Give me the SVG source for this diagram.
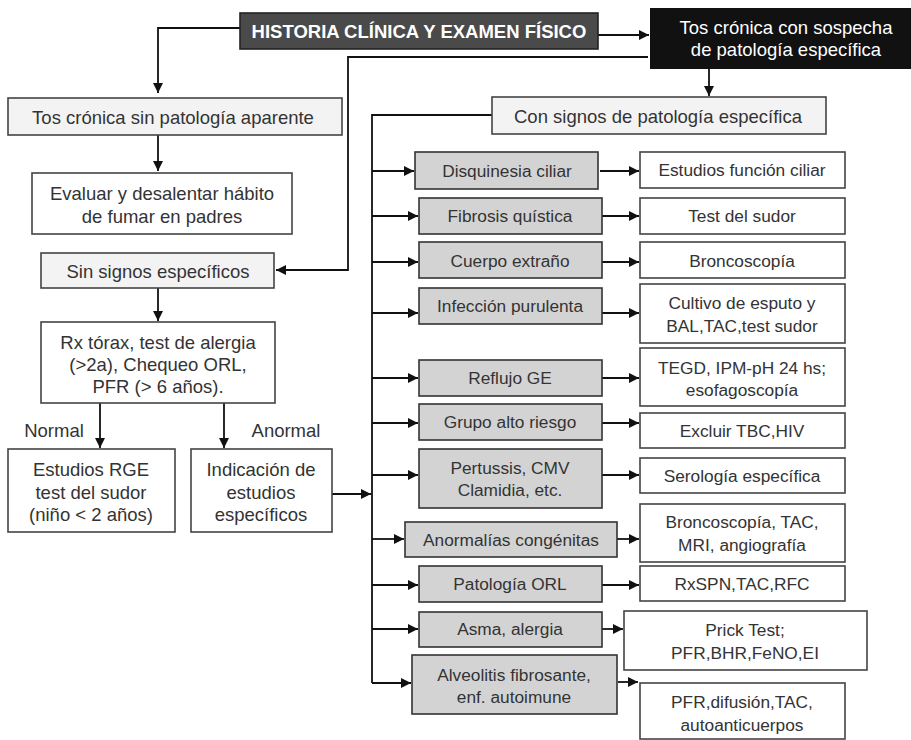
<svg xmlns="http://www.w3.org/2000/svg" width="911" height="740" viewBox="0 0 911 740">
<defs>
<marker id="ah" markerWidth="12" markerHeight="12" refX="10" refY="5" orient="auto" markerUnits="userSpaceOnUse">
<path d="M0,0 L10,5 L0,10 Z" fill="#111"/>
</marker>
</defs>
<style>
text{font-family:"Liberation Sans",Arial,sans-serif;font-size:17.3px;fill:#333;text-anchor:middle;dominant-baseline:central}
.L{font-size:18.5px}
.lt{fill:#f3f3f3;stroke:#444;stroke-width:1.6}
.wh{fill:#fff;stroke:#444;stroke-width:1.6}
.gr{fill:#d3d3d3;stroke:#333;stroke-width:1.6}
.c{fill:none;stroke:#111;stroke-width:1.8}
.ca{fill:none;stroke:#111;stroke-width:1.8;marker-end:url(#ah)}
.w{fill:#fff}
.b{font-weight:bold}
</style>
<rect width="911" height="740" fill="#fff"/>
<g id="connectors">
<path class="ca" d="M240,28 H158 V93"/>
<path class="ca" d="M598,35 H649"/>
<path class="ca" d="M648,57 H348 V270 H276"/>
<path class="ca" d="M709,69 V96"/>
<path class="ca" d="M158,135 V171"/>
<path class="ca" d="M158,288 V321"/>
<path class="ca" d="M100,403 V448"/>
<path class="ca" d="M224,403 V448"/>
<path class="c" d="M492,115 H372 V683"/>
<path class="ca" d="M332,494 H371"/>
<path class="ca" d="M372,171 H414"/>
<path class="ca" d="M600,171 H639"/>
<path class="ca" d="M372,216 H418"/>
<path class="ca" d="M602,216 H639"/>
<path class="ca" d="M372,262 H418"/>
<path class="ca" d="M602,262 H639"/>
<path class="ca" d="M372,313 H418"/>
<path class="ca" d="M602,313 H639"/>
<path class="ca" d="M372,378 H418"/>
<path class="ca" d="M602,378 H639"/>
<path class="ca" d="M372,423 H418"/>
<path class="ca" d="M602,423 H639"/>
<path class="ca" d="M372,475 H418"/>
<path class="ca" d="M602,475 H639"/>
<path class="ca" d="M372,539 H404"/>
<path class="ca" d="M617,539 H639"/>
<path class="ca" d="M372,585 H418"/>
<path class="ca" d="M602,585 H639"/>
<path class="ca" d="M372,629 H418"/>
<path class="ca" d="M602,629 H623"/>
<path class="ca" d="M372,683 H411"/>
<path class="ca" d="M618,682 H638"/>
</g>
<text class="L" x="54" y="430">Normal</text>
<text class="L" x="286" y="430">Anormal</text>
<g id="historia"><rect x="240" y="13" width="358" height="36" fill="#4a4a4a" stroke="#222" stroke-width="1.6"/><text class="w b L" x="419" y="31">HISTORIA CLÍNICA Y EXAMEN FÍSICO</text></g>
<g id="sospecha"><rect x="650" y="8" width="261" height="61" fill="#111"/><text class="w L" x="786" y="27">Tos crónica con sospecha</text><text class="w L" x="786" y="49">de patología específica</text></g>
<g id="con-signos"><rect class="lt" x="492" y="97" width="334" height="37"/><text class="L" x="658" y="116">Con signos de patología específica</text></g>
<g id="sin-patologia"><rect class="lt" x="8" y="98" width="334" height="37"/><text class="L" x="173" y="117">Tos crónica sin patología aparente</text></g>
<g id="evaluar"><rect class="wh" x="32" y="173" width="260" height="61"/><text class="L" x="162" y="193">Evaluar y desalentar hábito</text><text class="L" x="162" y="216">de fumar en padres</text></g>
<g id="sin-signos"><rect class="lt" x="41" y="253" width="233" height="35"/><text class="L" x="158" y="271">Sin signos específicos</text></g>
<g id="rx"><rect class="wh" x="41" y="322" width="234" height="81"/><text class="L" x="158" y="342">Rx tórax, test de alergia</text><text class="L" x="158" y="364">(&gt;2a), Chequeo ORL,</text><text class="L" x="158" y="386">PFR (&gt; 6 años).</text></g>
<g id="estudios-rge"><rect class="wh" x="8" y="449" width="167" height="83"/><text class="L" x="91" y="469">Estudios RGE</text><text class="L" x="91" y="492">test del sudor</text><text class="L" x="91" y="514">(niño &lt; 2 años)</text></g>
<g id="indicacion"><rect class="wh" x="191" y="449" width="141" height="83"/><text class="L" x="261" y="469">Indicación de</text><text class="L" x="261" y="492">estudios</text><text class="L" x="261" y="514">específicos</text></g>
<g id="disquinesia"><rect class="gr" x="415" y="152" width="183" height="37"/><text x="507" y="171">Disquinesia ciliar</text></g>
<g id="fibrosis"><rect class="gr" x="419" y="198" width="183" height="36"/><text x="510" y="216">Fibrosis quística</text></g>
<g id="cuerpo"><rect class="gr" x="419" y="242" width="183" height="36"/><text x="510" y="261">Cuerpo extraño</text></g>
<g id="infeccion"><rect class="gr" x="419" y="288" width="183" height="36"/><text x="510" y="306">Infección purulenta</text></g>
<g id="reflujo"><rect class="gr" x="419" y="360" width="183" height="36"/><text x="510" y="378">Reflujo GE</text></g>
<g id="grupo"><rect class="gr" x="419" y="404" width="183" height="36"/><text x="510" y="422">Grupo alto riesgo</text></g>
<g id="pertussis"><rect class="gr" x="419" y="449" width="183" height="59"/><text x="510" y="468">Pertussis, CMV</text><text x="510" y="490">Clamidia, etc.</text></g>
<g id="anormalias"><rect class="gr" x="405" y="522" width="212" height="35"/><text x="511" y="540">Anormalías congénitas</text></g>
<g id="patologia-orl"><rect class="gr" x="419" y="566" width="183" height="36"/><text x="510" y="584">Patología ORL</text></g>
<g id="asma"><rect class="gr" x="419" y="612" width="183" height="35"/><text x="510" y="629">Asma, alergia</text></g>
<g id="alveolitis"><rect class="gr" x="412" y="655" width="205" height="59"/><text x="514" y="675">Alveolitis fibrosante,</text><text x="514" y="697">enf. autoimune</text></g>
<g id="estudios-ciliar"><rect class="wh" x="640" y="152" width="205" height="36"/><text x="742" y="170">Estudios función ciliar</text></g>
<g id="test-sudor"><rect class="wh" x="640" y="198" width="205" height="36"/><text x="742" y="216">Test del sudor</text></g>
<g id="broncoscopia"><rect class="wh" x="640" y="242" width="205" height="36"/><text x="742" y="261">Broncoscopía</text></g>
<g id="cultivo"><rect class="wh" x="640" y="284" width="205" height="59"/><text x="742" y="303">Cultivo de esputo y</text><text x="742" y="326">BAL,TAC,test sudor</text></g>
<g id="tegd"><rect class="wh" x="640" y="348" width="205" height="58"/><text x="742" y="368">TEGD, IPM-pH 24 hs;</text><text x="742" y="390">esofagoscopía</text></g>
<g id="excluir"><rect class="wh" x="640" y="413" width="205" height="35"/><text x="742" y="431">Excluir TBC,HIV</text></g>
<g id="serologia"><rect class="wh" x="640" y="458" width="205" height="35"/><text x="742" y="476">Serología específica</text></g>
<g id="bronco-tac"><rect class="wh" x="640" y="504" width="205" height="58"/><text x="742" y="522">Broncoscopía, TAC,</text><text x="742" y="545">MRI, angiografía</text></g>
<g id="rxspn"><rect class="wh" x="640" y="566" width="205" height="35"/><text x="742" y="584">RxSPN,TAC,RFC</text></g>
<g id="prick"><rect class="wh" x="624" y="611" width="243" height="59"/><text x="745" y="630">Prick Test;</text><text x="745" y="653">PFR,BHR,FeNO,EI</text></g>
<g id="pfr-difusion"><rect class="wh" x="640" y="683" width="205" height="56"/><text x="742" y="702">PFR,difusión,TAC,</text><text x="742" y="725">autoanticuerpos</text></g>
</svg>
